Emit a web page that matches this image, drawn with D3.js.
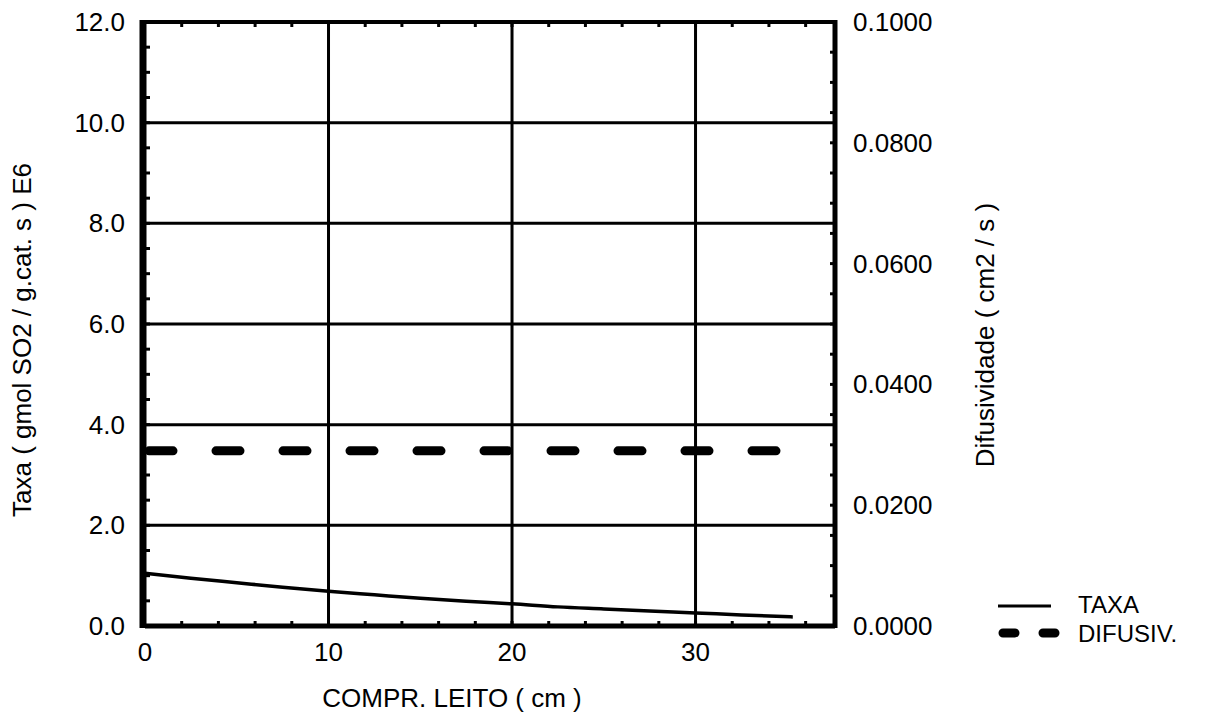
<!DOCTYPE html>
<html>
<head>
<meta charset="utf-8">
<script src="https://cdn.jsdelivr.net/npm/d3@7"></script>
<style>
  body { margin: 0; background: #fff; }
  text { font-family: "Liberation Sans", Arial, sans-serif; fill: #000; }
</style>
</head>
<body>
<script>
// data
var comprX = [0, 2.5, 5, 7.5, 10, 12.5, 15, 17.5, 20, 22.5, 25, 27.5, 30, 32.5, 35.3]
var taxa   = [1.05, 0.95, 0.86, 0.77, 0.69, 0.62, 0.55, 0.49, 0.44, 0.38, 0.34, 0.30, 0.26, 0.22, 0.18]
var difX   = [0, 35.3]
var difus  = [0.029, 0.029]
var leftTicks  = [0, 2, 4, 6, 8, 10, 12]
var rightTicks = [0, 0.02, 0.04, 0.06, 0.08, 0.1]
var xTicks = [0, 10, 20, 30]

var W = 1209, H = 722
var margin = {top: 22, right: 374, bottom: 96, left: 145}
var width = W - margin.left - margin.right
var height = H - margin.top - margin.bottom

var svg = d3.select("body").append("svg")
  .attr("width", W).attr("height", H)

var g = svg.append("g")
  .attr("transform", "translate(" + margin.left + "," + margin.top + ")")

//////////////////////////// scales ////////////////////////////
var x = d3.scaleLinear().domain([0, 37.6]).range([0, width])
var yL = d3.scaleLinear().domain([0, 12]).range([height, 0])
var yR = d3.scaleLinear().domain([0, 0.1]).range([height, 0])

//////////////////////////// grid ////////////////////////////
g.selectAll(".hgrid").data(leftTicks.slice(1, -1)).enter().append("line")
  .attr("x1", 0).attr("x2", width)
  .attr("y1", d => yL(d)).attr("y2", d => yL(d))
  .attr("stroke", "#000").attr("stroke-width", 3)

g.selectAll(".vgrid").data(xTicks.slice(1)).enter().append("line")
  .attr("y1", 0).attr("y2", height)
  .attr("x1", d => x(d)).attr("x2", d => x(d))
  .attr("stroke", "#000").attr("stroke-width", 3)

//////////////////////////// minor ticks (inward) ////////////////////////////
var tl = 5
var xMinor = d3.range(2, 37, 2)
g.selectAll(".xb").data(xMinor).enter().append("line")
  .attr("x1", d => x(d)).attr("x2", d => x(d))
  .attr("y1", height).attr("y2", height - tl)
  .attr("stroke", "#000").attr("stroke-width", 3)
g.selectAll(".xt").data(xMinor).enter().append("line")
  .attr("x1", d => x(d)).attr("x2", d => x(d))
  .attr("y1", 0).attr("y2", tl)
  .attr("stroke", "#000").attr("stroke-width", 3)

var lMinor = d3.range(0.5, 12, 0.5)
g.selectAll(".yl").data(lMinor).enter().append("line")
  .attr("x1", 0).attr("x2", tl)
  .attr("y1", d => yL(d)).attr("y2", d => yL(d))
  .attr("stroke", "#000").attr("stroke-width", 3)

var rMinor = d3.range(0.005, 0.1, 0.005)
g.selectAll(".yr").data(rMinor).enter().append("line")
  .attr("x1", width).attr("x2", width - tl)
  .attr("y1", d => yR(d)).attr("y2", d => yR(d))
  .attr("stroke", "#000").attr("stroke-width", 3)

//////////////////////////// series ////////////////////////////
var lineTaxa = d3.line()
  .x((d, i) => x(comprX[i]))
  .y(d => yL(d))
  .curve(d3.curveMonotoneX)

g.append("path").datum(taxa)
  .attr("d", lineTaxa)
  .attr("fill", "none").attr("stroke", "#000").attr("stroke-width", 3.5)

var lineDif = d3.line()
  .x((d, i) => x(difX[i]))
  .y(d => yR(d))

g.append("path").datum(difus)
  .attr("d", lineDif)
  .attr("fill", "none").attr("stroke", "#000").attr("stroke-width", 9)
  .attr("stroke-linecap", "round")
  .attr("stroke-dasharray", "24,43")
  .attr("stroke-dashoffset", -4)

//////////////////////////// frame ////////////////////////////
g.append("line").attr("x1", 0).attr("x2", width).attr("y1", 0).attr("y2", 0)
  .attr("stroke", "#000").attr("stroke-width", 4)
g.append("line").attr("x1", 0).attr("x2", width).attr("y1", height).attr("y2", height)
  .attr("stroke", "#000").attr("stroke-width", 5)
g.append("line").attr("x1", width).attr("x2", width).attr("y1", -2).attr("y2", height + 2)
  .attr("stroke", "#000").attr("stroke-width", 5)
g.append("line").attr("x1", -2).attr("x2", -2).attr("y1", -2).attr("y2", height + 2)
  .attr("stroke", "#000").attr("stroke-width", 7)

//////////////////////////// tick labels ////////////////////////////
g.selectAll(".ll").data(leftTicks).enter().append("text")
  .attr("x", -20).attr("y", d => yL(d) + 9)
  .attr("text-anchor", "end").attr("font-size", 26)
  .text(d => d3.format(".1f")(d))

g.selectAll(".rl").data(rightTicks).enter().append("text")
  .attr("x", width + 18).attr("y", d => yR(d) + 9)
  .attr("text-anchor", "start").attr("font-size", 26)
  .text(d => d3.format(".4f")(d))

g.selectAll(".xl").data(xTicks).enter().append("text")
  .attr("x", d => x(d)).attr("y", height + 35)
  .attr("text-anchor", "middle").attr("font-size", 26)
  .text(d => d)

//////////////////////////// titles ////////////////////////////
svg.append("text")
  .attr("x", 452).attr("y", 707)
  .attr("text-anchor", "middle").attr("font-size", 26)
  .text("COMPR. LEITO ( cm )")

svg.append("text")
  .attr("transform", "translate(31,340) rotate(-90)")
  .attr("text-anchor", "middle").attr("font-size", 26)
  .text("Taxa ( gmol SO2 / g.cat. s ) E6")

svg.append("text")
  .attr("transform", "translate(994,335) rotate(-90)")
  .attr("text-anchor", "middle").attr("font-size", 26)
  .text("Difusividade ( cm2 / s )")

//////////////////////////// legend ////////////////////////////
var leg = svg.append("g").attr("transform", "translate(998,606)")
leg.append("line").attr("x1", 0).attr("x2", 53).attr("y1", 0).attr("y2", 0)
  .attr("stroke", "#000").attr("stroke-width", 3)
leg.append("text").attr("x", 80).attr("y", 7).attr("font-size", 24).text("TAXA")
leg.append("line").attr("x1", 5).attr("x2", 57).attr("y1", 27).attr("y2", 27)
  .attr("stroke", "#000").attr("stroke-width", 9).attr("stroke-linecap", "round")
  .attr("stroke-dasharray", "12,28")
leg.append("text").attr("x", 80).attr("y", 36).attr("font-size", 24).text("DIFUSIV.")
</script>
</body>
</html>
